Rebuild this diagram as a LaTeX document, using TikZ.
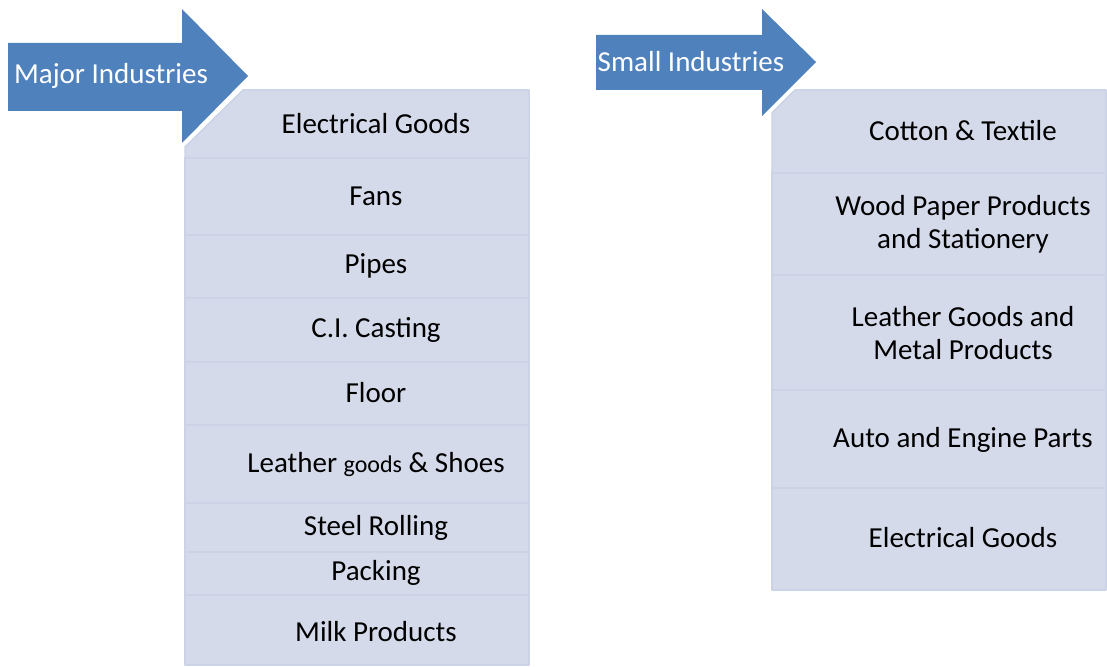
\documentclass[tikz,border=0pt]{standalone}
\usepackage{fontspec}
\setmainfont{Carlito}
\definecolor{arrowblue}{HTML}{4F81BD}
\definecolor{rowfill}{HTML}{D4DAEA}
\definecolor{rowline}{HTML}{CCD3E6}
\begin{document}
\begin{tikzpicture}[x=1pt,y=-1pt,font=\fontsize{29}{33}\selectfont,line join=round]
	\tikzset{
		headarrow/.style={fill=arrowblue},
		rowbox/.style={fill=rowfill,draw=rowline,line width=1.5pt},
		rowtext/.style={align=center,text=black,inner sep=0pt},
		headtext/.style={text=white,inner sep=0pt}
	}
	\useasboundingbox (0,0) rectangle (1107,666);
	% major industries
	\fill[headarrow] (8,43) -- (182,43) -- (182,9) -- (248,76) -- (182,143) -- (182,111) -- (8,111) -- cycle;
	\draw[rowbox] (185,147) -- (243,90) -- (529,90) -- (529,158) -- (185,158) -- cycle;
	\draw[rowbox] (185,158) rectangle (529,235);
	\draw[rowbox] (185,235) rectangle (529,298);
	\draw[rowbox] (185,298) rectangle (529,362);
	\draw[rowbox] (185,362) rectangle (529,425);
	\draw[rowbox] (185,425) rectangle (529,503);
	\draw[rowbox] (185,503) rectangle (529,552);
	\draw[rowbox] (185,552) rectangle (529,595);
	\draw[rowbox] (185,595) rectangle (529,665);
	\node[headtext] (major) at (111,76) {Major Industries};
	\node[rowtext] (m1) at (376,124) {Electrical Goods};
	\node[rowtext] (m2) at (376,196) {Fans};
	\node[rowtext] (m3) at (376,266) {Pipes};
	\node[rowtext] (m4) at (376,330) {C.I. Casting};
	\node[rowtext] (m5) at (376,393) {Floor};
	\node[rowtext] (m6) at (376,464) {Leather {\fontsize{24}{33}\selectfont goods} \& Shoes};
	\node[rowtext] (m7) at (376,528) {Steel Rolling};
	\node[rowtext] (m8) at (376,573) {Packing};
	\node[rowtext] (m9) at (376,632) {Milk Products};
	
	% small industries
	\fill[headarrow] (596,35) -- (762,35) -- (762,9) -- (816,62) -- (762,116) -- (762,90) -- (596,90) -- cycle;
	\draw[rowbox] (772,113) -- (795,90) -- (1106,90) -- (1106,173) -- (772,173) -- cycle;
	\draw[rowbox] (772,173) rectangle (1106,275);
	\draw[rowbox] (772,275) rectangle (1106,390);
	\draw[rowbox] (772,390) rectangle (1106,488);
	\draw[rowbox] (772,488) rectangle (1106,590);
	\node[headtext] (small) at (691,62) {Small Industries};
	\node[rowtext] (s1) at (963,131) {Cotton \& Textile};
	\node[rowtext] (s2) at (963,224) {Wood Paper Products\\and Stationery};
	\node[rowtext] (s3) at (963,333) {Leather Goods and\\Metal Products};
	\node[rowtext] (s4) at (963,440) {Auto and Engine Parts};
	\node[rowtext] (s5) at (963,538) {Electrical Goods};
\end{tikzpicture}
\end{document}
